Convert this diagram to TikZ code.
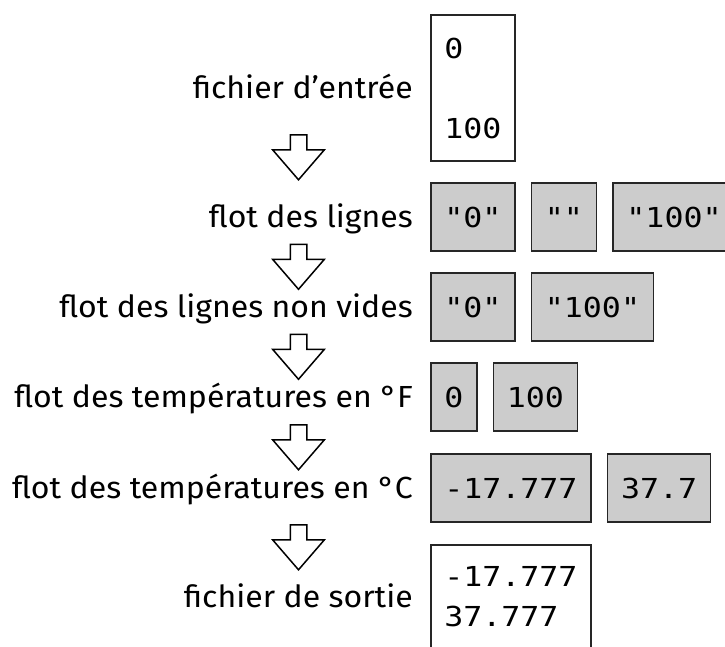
\documentclass[tikz,border=0pt]{standalone}
\usepackage{fontspec}
\setmainfont{Fira Sans}[FakeStretch=1.05]
\newfontfamily\codefont[FakeStretch=1.15]{DejaVu Sans Mono}
\usetikzlibrary{positioning,calc,shapes.arrows}

\begin{document}
\begin{tikzpicture}[x=1pt,y=-1pt,
   lab/.style={anchor=base east,inner sep=0pt,font=\fontsize{30.5}{36}\selectfont},
   box/.style={draw=black!85,line width=1.5pt,inner xsep=13.5pt,inner ysep=0pt,anchor=west,
     font=\codefont\fontsize{27.5}{40}\selectfont},
   cell/.style={box,fill=black!20,minimum height=68pt,text height=20pt,text depth=0pt},
   file/.style={box,fill=white,align=left,minimum height=#1},
   flow/.style={single arrow,draw,line width=1.5pt,rotate=-90,inner xsep=0pt,inner ysep=7.5pt,
     minimum height=45pt,single arrow head extend=17.5pt,single arrow tip angle=81.6},
   node distance=15pt]
 \useasboundingbox (0,0) rectangle (725,646);
 \clip (0,0) rectangle (725,646);
 % rows of values
 \node[file=146pt] (b1) at (430,88) {0\\\mbox{}\\100};
 \node[cell] (b21) at (430,217) {"0"};
 \node[cell,right=of b21] (b22) {""};
 \node[cell,right=of b22] (b23) {"100"};
 \node[cell] (b31) at (430,307) {"0"};
 \node[cell,right=of b31] (b32) {"100"};
 \node[cell] (b41) at (430,397) {0};
 \node[cell,right=of b41] (b42) {100};
 \node[cell] (b51) at (430,488) {-17.777};
 \node[cell,right=of b51] (b52) {37.7};
 \node[file=104.5pt] (b6) at (430,597) {-17.777\\37.777};
 % labels
 \node[lab] (lab1) at ($(b1.west)+(-17,10)$) {fichier d’entrée};
 \node[lab] (lab2) at ($(b21.west)+(-17,10)$) {flot des lignes};
 \node[lab] (lab3) at ($(b31.west)+(-17,10)$) {flot des lignes non vides};
 \node[lab] (lab4) at ($(b41.west)+(-17,10)$) {flot des températures en °F};
 \node[lab] (lab5) at ($(b51.west)+(-17,10)$) {flot des températures en °C};
 \node[lab] (lab6) at ($(b6.west)+(-17,10)$) {fichier de sortie};
 % arrows between rows
 \node[flow] (ar1) at ($(b1.west)!.5!(b21.west)-(131.5,0)$) {};
 \node[flow] (ar2) at ($(b21.west)!.5!(b31.west)-(131.5,0)$) {};
 \node[flow] (ar3) at ($(b31.west)!.5!(b41.west)-(131.5,0)$) {};
 \node[flow] (ar4) at ($(b41.west)!.5!(b51.west)-(131.5,0)$) {};
 \node[flow] (ar5) at ($(b51.west)!.5!(b6.west)-(131.5,0)$) {};
\end{tikzpicture}
\end{document}
